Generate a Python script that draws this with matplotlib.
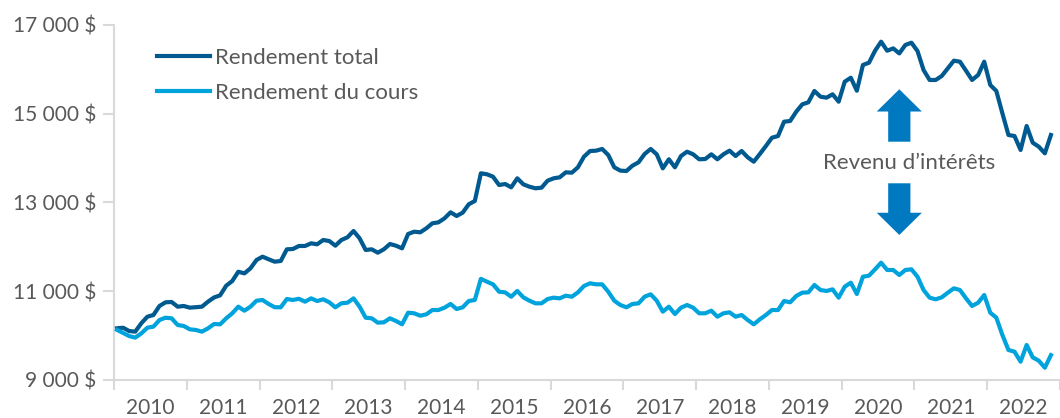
import matplotlib
matplotlib.use("Agg")
import matplotlib.pyplot as plt
import numpy as np

# ---- data (monthly, Jan 2010 onward) ----
years = ["2010", "2011", "2012", "2013", "2014", "2015", "2016",
         "2017", "2018", "2019", "2020", "2021", "2022"]

total_return = [
    10165, 10178, 10104, 10089, 10278, 10426, 10465, 10668, 10751, 10758,
    10652, 10668, 10630, 10640, 10652, 10765, 10860, 10908, 11125, 11230,
    11440, 11403, 11516, 11704, 11779, 11720, 11666, 11682, 11945, 11952,
    12020, 12020, 12080, 12058, 12155, 12132, 12027, 12155, 12216, 12358,
    12193, 11930, 11945, 11869, 11945, 12065, 12027, 11967, 12290, 12342,
    12328, 12418, 12531, 12553, 12643, 12779, 12696, 12771, 12960, 13034,
    13658, 13636, 13582, 13394, 13417, 13342, 13545, 13410, 13356, 13320,
    13334, 13491, 13545, 13568, 13680, 13672, 13793, 14033, 14160, 14168,
    14206, 14071, 13793, 13718, 13710, 13830, 13906, 14093, 14206, 14086,
    13770, 13974, 13793, 14048, 14145, 14086, 13974, 13980, 14086, 13974,
    14086, 14168, 14048, 14160, 14018, 13920, 14093, 14273, 14460, 14498,
    14821, 14837, 15046, 15212, 15258, 15513, 15385, 15362, 15438, 15272,
    15722, 15812, 15519, 16099, 16150, 16420, 16624, 16420, 16473, 16360,
    16550, 16601, 16414, 15986, 15761, 15761, 15851, 16024, 16196, 16173,
    15970, 15761, 15873, 16173, 15648, 15513, 15010, 14521, 14498, 14183,
    14724, 14348, 14258, 14108, 14521,
]

price_return = [
    10130, 10060, 9990, 9955, 10050, 10179, 10202, 10352, 10404, 10390,
    10239, 10217, 10142, 10127, 10089, 10164, 10262, 10255, 10390, 10503,
    10652, 10562, 10652, 10787, 10803, 10713, 10640, 10638, 10825, 10803,
    10830, 10765, 10840, 10780, 10818, 10751, 10638, 10728, 10742, 10840,
    10652, 10404, 10390, 10292, 10300, 10390, 10330, 10255, 10517, 10503,
    10449, 10480, 10577, 10577, 10630, 10713, 10600, 10638, 10780, 10803,
    11280, 11215, 11156, 10990, 10975, 10877, 11006, 10863, 10787, 10728,
    10728, 10825, 10855, 10840, 10900, 10877, 10975, 11118, 11179, 11156,
    11156, 10990, 10787, 10690, 10638, 10713, 10728, 10877, 10931, 10787,
    10540, 10652, 10487, 10630, 10690, 10630, 10503, 10503, 10562, 10427,
    10503, 10525, 10427, 10465, 10352, 10255, 10367, 10465, 10577, 10577,
    10780, 10751, 10893, 10968, 10975, 11141, 11028, 11006, 11043, 10855,
    11103, 11193, 10938, 11328, 11351, 11494, 11644, 11479, 11479, 11366,
    11479, 11494, 11328, 11028, 10855, 10818, 10863, 10968, 11066, 11028,
    10840, 10668, 10742, 10915, 10517, 10404, 10014, 9676, 9638, 9413,
    9789, 9510, 9435, 9277, 9560,
]

series_labels = ["Rendement total", "Rendement du cours"]
annotation_text = "Revenu d\u2019intérêts"
y_ticks = [9000, 11000, 13000, 15000, 17000]

# ---- style ----
DARK = "#005A8F"
LIGHT = "#00A3DC"
ARROW = "#0079C1"
GREY_TXT = "#595959"
AXIS_GREY = "#D9D9D9"

plt.rcParams["font.family"] = ["Lato", "DejaVu Sans"]

fig = plt.figure(figsize=(10.6, 4.18), dpi=100)
ax = fig.add_axes([114 / 1060, 38 / 418, 946 / 1060, 355 / 418])

x = np.arange(len(total_return))
ax.plot(x, total_return, color=DARK, lw=3.0, solid_joinstyle="round",
        label=series_labels[0], zorder=3)
ax.plot(x, price_return, color=LIGHT, lw=3.0, solid_joinstyle="round",
        label=series_labels[1], zorder=3)

ax.set_ylim(9000, 17000)
ax.set_xlim(-0.5, 153.7)

# y axis
ax.set_yticks(y_ticks)
ax.set_yticklabels([f"{v:,}".replace(",", " ") + " $" for v in y_ticks])
ax.tick_params(axis="y", length=8, width=1.5, color=AXIS_GREY,
               labelsize=15, labelcolor=GREY_TXT, pad=5)

# x axis: ticks at year boundaries, labels centred in year
n_years = len(years)
ax.set_xticks([12 * k - 0.5 for k in range(n_years + 1)])
ax.set_xticklabels([])
ax.set_xticks([12 * k + 5.5 for k in range(n_years)], minor=True)
ax.set_xticklabels(years, minor=True)
ax.tick_params(axis="x", which="major", length=7, width=1.5, color=AXIS_GREY)
ax.tick_params(axis="x", which="minor", length=0, labelsize=15,
               labelcolor=GREY_TXT, pad=13)

for s in ["top", "right"]:
    ax.spines[s].set_visible(False)
for s in ["left", "bottom"]:
    ax.spines[s].set_color(AXIS_GREY)
    ax.spines[s].set_linewidth(1.5)

leg = ax.legend(loc="upper left", bbox_to_anchor=(0.0455, 0.935),
                frameon=False, fontsize=16, handlelength=2.4,
                handletextpad=0.2, labelspacing=0.65, borderpad=0,
                borderaxespad=0)
for t in leg.get_texts():
    t.set_color(GREY_TXT)

# annotation: interest income between the two lines
arrow_x = 129
arrow_style = "simple,head_length=1.6,head_width=3.25,tail_width=1.6"
ax.annotate("", xy=(arrow_x, 15551), xytext=(arrow_x, 14370),
            arrowprops=dict(arrowstyle=arrow_style, mutation_scale=10,
                            color=ARROW, shrinkA=0, shrinkB=0, lw=0))
ax.annotate("", xy=(arrow_x, 12268), xytext=(arrow_x, 13433),
            arrowprops=dict(arrowstyle=arrow_style, mutation_scale=10,
                            color=ARROW, shrinkA=0, shrinkB=0, lw=0))
ax.text(arrow_x + 1.6, 13890, annotation_text, ha="center", va="center",
        fontsize=16, color=GREY_TXT)

fig.savefig("out.png", dpi=100)
